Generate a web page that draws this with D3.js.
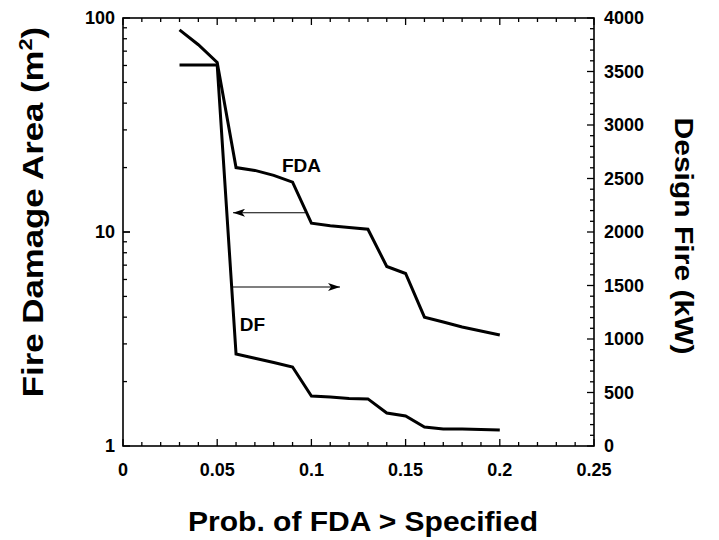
<!DOCTYPE html>
<html>
<head>
<meta charset="utf-8">
<script src="https://cdn.jsdelivr.net/npm/d3@7/dist/d3.min.js"></script>
<style>
  html, body { margin: 0; padding: 0; background: #fff; }
  svg text { font-family: "Liberation Sans", Arial, sans-serif; font-weight: bold; fill: #000; }
</style>
</head>
<body>
<svg id="chart" width="719" height="540"></svg>
<script>
// ---- data ----
const fdaX = [0.03, 0.04, 0.05, 0.06, 0.07, 0.08, 0.09, 0.10, 0.11, 0.12, 0.13, 0.14, 0.15, 0.16, 0.17, 0.18, 0.19, 0.20];
const fdaY = [88, 75, 62, 20, 19.4, 18.4, 17.1, 11.0, 10.7, 10.5, 10.3, 6.9, 6.4, 4.0, 3.8, 3.6, 3.45, 3.3];
const dfX = [0.03, 0.05, 0.06, 0.07, 0.08, 0.09, 0.10, 0.11, 0.12, 0.13, 0.14, 0.15, 0.16, 0.17, 0.18, 0.19, 0.20];
const dfY = [3560, 3560, 860, 820, 780, 738, 467, 458, 445, 440, 308, 280, 178, 160, 158, 155, 150];
const xTicks = [0, 0.05, 0.1, 0.15, 0.2, 0.25];
const xTickLabels = ["0", "0.05", "0.1", "0.15", "0.2", "0.25"];
const yLeftTicks = [1, 10, 100];
const yLeftTickLabels = ["1", "10", "100"];
const yRightTicks = [0, 500, 1000, 1500, 2000, 2500, 3000, 3500, 4000];
const yRightTickLabels = ["0", "500", "1000", "1500", "2000", "2500", "3000", "3500", "4000"];

// ---- layout ----
const L = 123, R = 594, T = 18, B = 446;
const svg = d3.select("#chart");
const x = d3.scaleLinear().domain([0, 0.25]).range([L, R]);
const yL = d3.scaleLog().domain([1, 100]).range([B, T]);
const yR = d3.scaleLinear().domain([0, 4000]).range([B, T]);

// minor tick values
const xMinor = d3.range(0, 26).map(i => i * 0.01);
const yLMinor = [];
[1, 10].forEach(d => { for (let k = 1; k <= 10; k++) yLMinor.push(d * k); });
const yRMinor = d3.range(0, 41).map(i => i * 100);

const g = svg.append("g");

function tickLines(vals, isMajor, fn) {
  vals.forEach(v => fn(v, isMajor(v) ? 7 : 4));
}
const near = (a, b) => Math.abs(a - b) < 1e-9;
// bottom and top x ticks
tickLines(xMinor, v => xTicks.some(t => near(t, v)), (v, len) => {
  g.append("line").attr("x1", x(v)).attr("x2", x(v)).attr("y1", B).attr("y2", B - len)
    .attr("stroke", "#000").attr("stroke-width", 1.3);
  g.append("line").attr("x1", x(v)).attr("x2", x(v)).attr("y1", T).attr("y2", T + len)
    .attr("stroke", "#000").attr("stroke-width", 1.3);
});
// left log ticks
tickLines(yLMinor, v => yLeftTicks.includes(v), (v, len) => {
  g.append("line").attr("x1", L).attr("x2", L + len).attr("y1", yL(v)).attr("y2", yL(v))
    .attr("stroke", "#000").attr("stroke-width", 1.3);
});
// right linear ticks
tickLines(yRMinor, v => v % 500 === 0, (v, len) => {
  g.append("line").attr("x1", R).attr("x2", R - len).attr("y1", yR(v)).attr("y2", yR(v))
    .attr("stroke", "#000").attr("stroke-width", 1.3);
});

// frame
g.append("rect").attr("x", L).attr("y", T).attr("width", R - L).attr("height", B - T)
  .attr("fill", "none").attr("stroke", "#000").attr("stroke-width", 1.6);

// tick labels
xTicks.forEach((v, i) => {
  g.append("text").attr("x", x(v)).attr("y", 476).attr("text-anchor", "middle")
    .attr("font-size", 18).text(xTickLabels[i]);
});
yLeftTicks.forEach((v, i) => {
  g.append("text").attr("x", 115).attr("y", yL(v)).attr("dy", "0.35em").attr("text-anchor", "end")
    .attr("font-size", 18).text(yLeftTickLabels[i]);
});
yRightTicks.forEach((v, i) => {
  g.append("text").attr("x", 604).attr("y", yR(v)).attr("dy", "0.35em").attr("text-anchor", "start")
    .attr("font-size", 18).text(yRightTickLabels[i]);
});

// curves
const lineL = d3.line().x(d => x(d[0])).y(d => yL(d[1]));
const lineR = d3.line().x(d => x(d[0])).y(d => yR(d[1]));
g.append("path").datum(fdaX.map((d, i) => [d, fdaY[i]])).attr("d", lineL)
  .attr("fill", "none").attr("stroke", "#000").attr("stroke-width", 3).attr("stroke-linejoin", "miter");
g.append("path").datum(dfX.map((d, i) => [d, dfY[i]])).attr("d", lineR)
  .attr("fill", "none").attr("stroke", "#000").attr("stroke-width", 3).attr("stroke-linejoin", "miter");

// arrow marker
svg.append("defs").append("marker").attr("id", "ah").attr("viewBox", "0 0 12 8")
  .attr("refX", 12).attr("refY", 4).attr("markerWidth", 12).attr("markerHeight", 8)
  .attr("markerUnits", "userSpaceOnUse").attr("orient", "auto")
  .append("path").attr("d", "M0,0 L12,4 L0,8 L3,4 Z").attr("fill", "#000");

// arrows (FDA -> left axis, DF -> right axis)
g.append("line").attr("x1", x(0.0966)).attr("x2", x(0.0584)).attr("y1", yL(12.3)).attr("y2", yL(12.3))
  .attr("stroke", "#000").attr("stroke-width", 1.2).attr("marker-end", "url(#ah)");
g.append("line").attr("x1", x(0.0579)).attr("x2", x(0.1152)).attr("y1", yR(1486)).attr("y2", yR(1486))
  .attr("stroke", "#000").attr("stroke-width", 1.2).attr("marker-end", "url(#ah)");

// curve labels
g.append("text").attr("x", x(0.0844)).attr("y", yL(19.1)).attr("font-size", 19).text("FDA");
g.append("text").attr("x", x(0.062)).attr("y", yR(1075)).attr("font-size", 19).text("DF");

// axis titles
g.append("text").attr("x", 363).attr("y", 531).attr("text-anchor", "middle")
  .attr("font-size", 28).attr("textLength", 350).attr("lengthAdjust", "spacingAndGlyphs")
  .text("Prob. of FDA > Specified");

const lt = g.append("text").attr("transform", "translate(43,212) rotate(-90) scale(1.2,1)")
  .attr("text-anchor", "middle").attr("font-size", 29);
lt.append("tspan").text("Fire Damage Area (m");
lt.append("tspan").attr("font-size", 18).attr("dy", -11).text("2");
lt.append("tspan").attr("dy", 11).text(")");

g.append("text").attr("transform", "translate(675,236) rotate(90)")
  .attr("text-anchor", "middle").attr("font-size", 25).attr("textLength", 237)
  .attr("lengthAdjust", "spacingAndGlyphs").text("Design Fire (kW)");
</script>
</body>
</html>
